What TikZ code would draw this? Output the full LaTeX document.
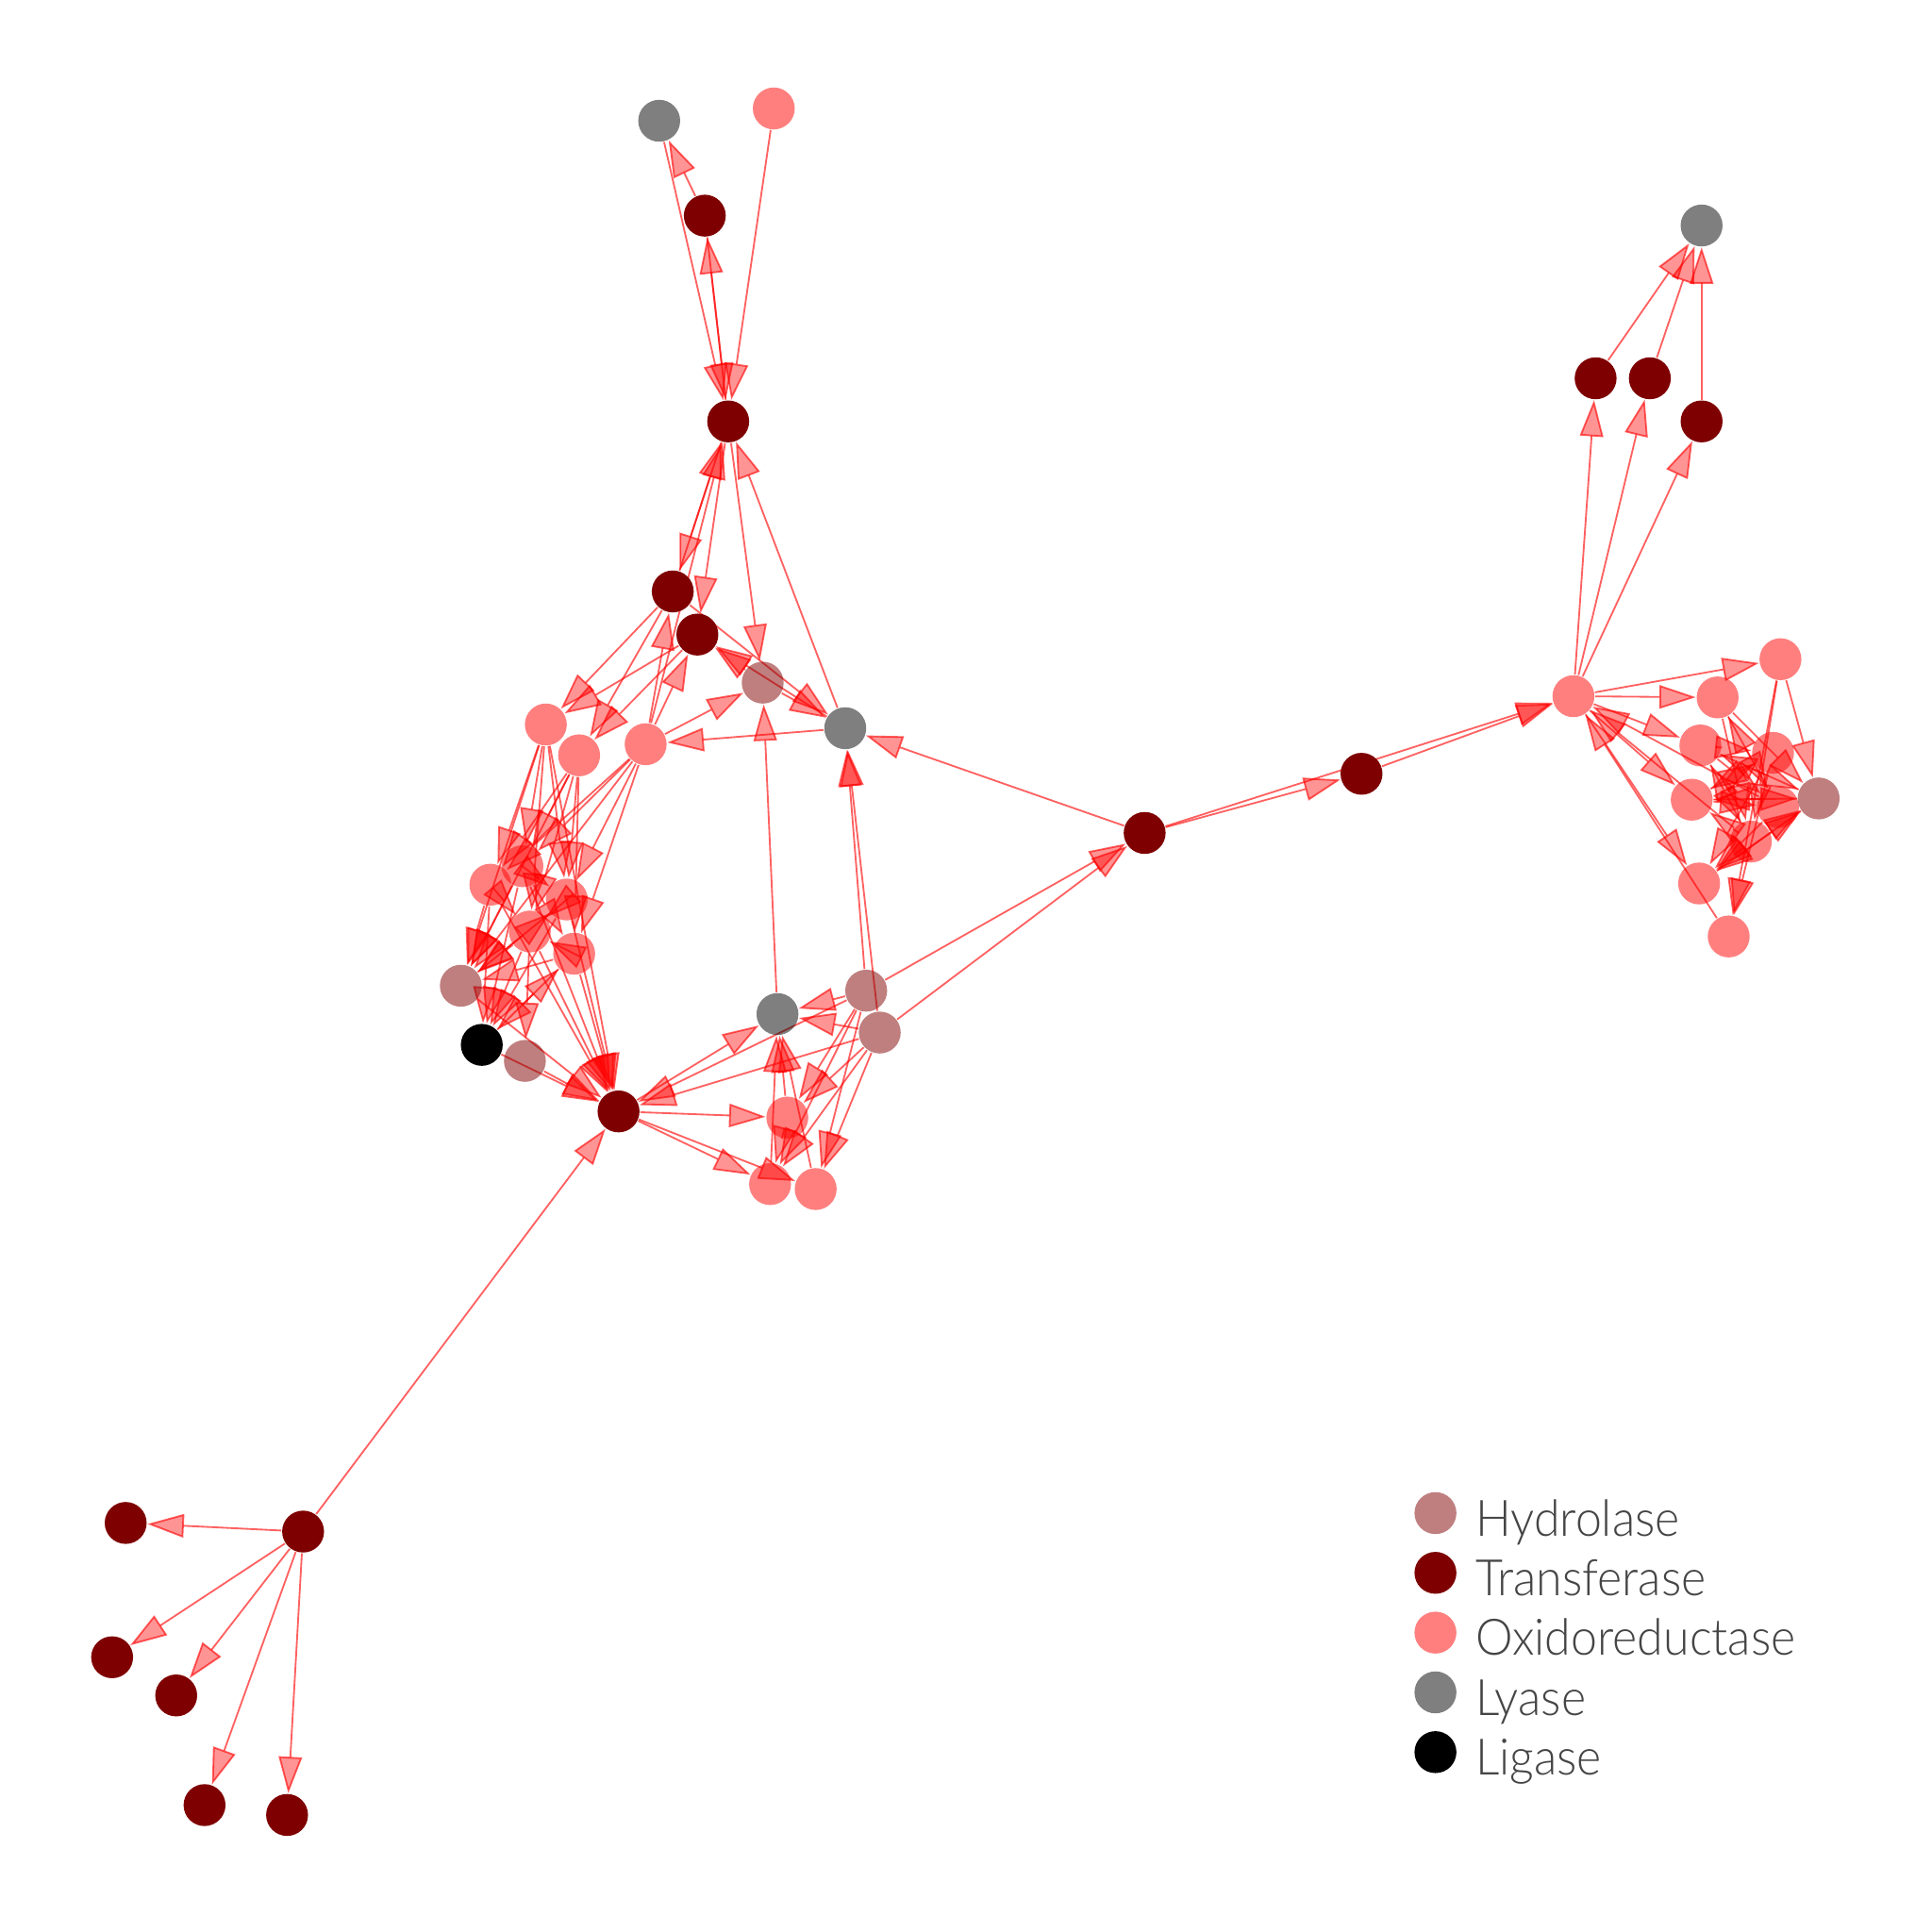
\documentclass[tikz,border=0pt]{standalone}
\usepackage{fontspec}
\IfFontExistsTF{Lato Light}{\setmainfont{Lato Light}[FakeStretch=0.94]}{\setmainfont{Lato}[FakeStretch=0.94]}
\usetikzlibrary{arrows.meta,backgrounds}
\definecolor{trcol}{HTML}{7F0000}
\definecolor{legfg}{HTML}{454545}
\tikzset{
  enz/.style={circle, inner sep=0pt, minimum size=0.34cm},
  trf/.style={enz, fill=trcol},
  hyd/.style={enz, fill=trcol, fill opacity=.5},
  oxr/.style={enz, fill=red, fill opacity=.5},
  lya/.style={enz, fill=black, fill opacity=.5},
  lgs/.style={enz, fill=black},
  link/.style={draw=red, draw opacity=.62, fill opacity=.42, line width=.4pt,
    -{Triangle[length=8.4pt, width=5.4pt, fill=red]}},
  legtext/.style={anchor=base west, inner sep=0pt, text=legfg,
    font=\fontsize{11.6}{14}\selectfont}
}
\begin{document}
\begin{tikzpicture}[x=0.01cm, y=-0.01cm]
\useasboundingbox (0,0) rectangle (1568,1568);
\node[lya] (ly_top) at (535,98) {};
\node[oxr] (ox_top) at (628,88) {};
\node[trf] (tr_a) at (572,175) {};
\node[trf] (tr_hub) at (591,342) {};
\node[trf] (tr_b) at (546,480) {};
\node[trf] (tr_c) at (566,515) {};
\node[hyd] (hy_a) at (619,554) {};
\node[lya] (ly_a) at (686,591) {};
\node[oxr] (ox_a) at (443,588) {};
\node[oxr] (ox_b) at (470,613) {};
\node[oxr] (ox_c) at (524,604) {};
\node[oxr] (ox_e) at (424,703) {};
\node[oxr] (ox_d) at (398,718) {};
\node[oxr] (ox_f) at (460,730) {};
\node[oxr] (ox_g) at (430,756) {};
\node[oxr] (ox_h) at (466,774) {};
\node[hyd] (hy_b) at (374,800) {};
\node[lgs] (lg_a) at (391,848) {};
\node[hyd] (hy_c) at (426,861) {};
\node[trf] (tr_d) at (502,902) {};
\node[lya] (ly_b) at (631,823) {};
\node[hyd] (hy_d) at (703,804) {};
\node[hyd] (hy_e) at (714,838) {};
\node[oxr] (ox_i) at (639,907) {};
\node[oxr] (ox_j) at (625,961) {};
\node[oxr] (ox_k) at (662,965) {};
\node[trf] (tr_e) at (929,676) {};
\node[trf] (tr_f) at (1105,628) {};
\node[oxr] (ox_r) at (1277,565) {};
\node[lya] (ly_r) at (1381,183) {};
\node[trf] (tr_r1) at (1295,307) {};
\node[trf] (tr_r2) at (1339,307) {};
\node[trf] (tr_r3) at (1381,342) {};
\node[oxr] (ox_r1) at (1445,535) {};
\node[oxr] (ox_r2) at (1394,566) {};
\node[oxr] (ox_r3) at (1380,605) {};
\node[oxr] (ox_r4) at (1439,611) {};
\node[oxr] (ox_r5) at (1373,649) {};
\node[hyd] (hy_r) at (1476,648) {};
\node[oxr] (ox_r6) at (1443,655) {};
\node[oxr] (ox_r7) at (1421,683) {};
\node[oxr] (ox_r8) at (1379,717) {};
\node[oxr] (ox_r9) at (1403,760) {};
\node[trf] (tr_g) at (246,1243) {};
\node[trf] (tr_l1) at (102,1236) {};
\node[trf] (tr_l2) at (91,1345) {};
\node[trf] (tr_l3) at (143,1376) {};
\node[trf] (tr_l4) at (166,1465) {};
\node[trf] (tr_l5) at (233,1473) {};
\begin{pgfonlayer}{background}
\foreach \a/\b in {tr_a/ly_top, tr_hub/tr_a, tr_a/tr_hub, ly_top/tr_hub, ox_top/tr_hub,
    tr_b/tr_hub, tr_hub/tr_b, tr_hub/tr_c, tr_hub/hy_a, ly_a/tr_hub, ox_c/tr_hub,
    tr_b/ox_a, tr_b/ox_b, tr_c/ox_a, tr_c/ox_b, ox_c/tr_b, ox_c/tr_c, hy_a/tr_c,
    ly_a/tr_c, tr_b/ly_a, hy_a/ly_a, ox_c/hy_a, ly_a/ox_c, ly_b/hy_a,
    tr_e/ly_a, hy_d/ly_a, hy_e/ly_a, tr_e/tr_f, tr_f/ox_r, tr_e/ox_r, hy_d/tr_e, hy_e/tr_e,
    ox_r/tr_r1, ox_r/tr_r2, ox_r/tr_r3, tr_r1/ly_r, tr_r2/ly_r, tr_r3/ly_r}
  \draw[link] (\a) -- (\b);
\foreach \a/\b in {ox_r/ox_r1, ox_r/ox_r2, ox_r/ox_r3, ox_r/ox_r5, ox_r/ox_r8, ox_r9/ox_r,
    ox_r7/ox_r, ox_r6/ox_r, ox_r1/ox_r7, ox_r1/ox_r9, ox_r4/ox_r9, ox_r1/hy_r,
    ox_r2/hy_r, ox_r3/hy_r, ox_r5/hy_r, ox_r7/hy_r, ox_r8/hy_r, ox_r2/ox_r7,
    ox_r3/ox_r6, ox_r5/ox_r4, ox_r5/ox_r6, ox_r7/ox_r3, ox_r7/ox_r5, ox_r6/ox_r8,
    ox_r7/ox_r8, hy_r/ox_r5, hy_r/ox_r3, ox_r2/ox_r6, ox_r3/ox_r4, ox_r4/ox_r5,
    ox_r6/ox_r2, ox_r4/ox_r8, hy_r/ox_r8, ox_r3/ox_r7}
  \draw[link] (\a) -- (\b);
\foreach \a/\b in {tr_d/ox_i, tr_d/ox_j, tr_d/ox_k, tr_d/ly_b, hy_d/tr_d, hy_e/tr_d,
    hy_d/ly_b, hy_e/ly_b, ox_i/ly_b, ox_j/ly_b, ox_k/ly_b, hy_d/ox_i, hy_d/ox_j,
    hy_e/ox_i, hy_e/ox_j, hy_d/ox_k, hy_e/ox_k, ox_i/ox_j,
    tr_g/tr_d, tr_g/tr_l1, tr_g/tr_l2, tr_g/tr_l3, tr_g/tr_l4, tr_g/tr_l5}
  \draw[link] (\a) -- (\b);
\foreach \a/\b in {ox_a/ox_d, ox_a/ox_e, ox_a/ox_g, ox_a/hy_b, ox_a/tr_d, ox_a/ox_f,
    ox_b/ox_d, ox_b/ox_e, ox_b/ox_f, ox_b/ox_h, ox_b/hy_b, ox_b/ox_g,
    ox_c/ox_e, ox_c/ox_f, ox_c/ox_h, ox_c/hy_b, ox_c/ox_d,
    ox_d/hy_b, ox_d/lg_a, ox_e/hy_b, ox_e/lg_a, ox_f/hy_b, ox_f/lg_a, ox_g/hy_b,
    ox_g/lg_a, ox_h/hy_b, ox_h/lg_a, ox_d/ox_g, ox_e/ox_f, ox_f/ox_g, ox_h/ox_g,
    ox_e/ox_h, ox_d/tr_d, ox_e/tr_d, ox_g/tr_d, ox_h/tr_d, hy_b/tr_d, lg_a/tr_d,
    hy_c/tr_d, ox_f/tr_d, ox_g/hy_c, lg_a/ox_h, hy_b/ox_f}
  \draw[link] (\a) -- (\b);
\end{pgfonlayer}
\foreach \s/\t [count=\i] in {hyd/Hydrolase, trf/Transferase, oxr/Oxidoreductase,
    lya/Lyase, lgs/Ligase} {
  \node[\s] (leg\i) at (1165,{1228+48.5*(\i-1)}) {};
  \node[legtext] (lab\i) at (1197,{1246.5+48.5*(\i-1)}) {\t};
}
\end{tikzpicture}
\end{document}
